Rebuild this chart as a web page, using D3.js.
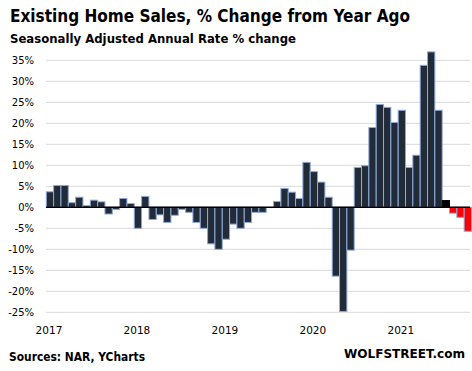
<!DOCTYPE html>
<html><head><meta charset="utf-8">
<script src="https://cdn.jsdelivr.net/npm/d3@7"></script>
<style>body{margin:0;background:#fff}svg{display:block}</style>
</head><body>
<script>
const months = [];
const years = [2017, 2018, 2019, 2020, 2021];
years.forEach(y => { for (let m = 1; m <= 12; m++) if (!(y === 2021 && m > 10)) months.push(y + "-" + String(m).padStart(2, "0")); });
const values2017 = [3.7, 5.2, 5.2, 1.1, 2.4, 0.4, 1.7, 1.3, -1.6, -0.5, 2.1, 0.9];
const values2018 = [-5.0, 2.6, -2.9, -1.8, -3.6, -1.9, -0.5, -1.2, -3.6, -5.0, -8.7, -10.0];
const values2019 = [-7.6, -4.0, -5.0, -3.6, -1.2, -1.2, 0.0, 1.4, 4.5, 3.6, 2.1, 10.7];
const values2020 = [8.5, 6.0, 2.4, -16.4, -24.8, -10.2, 9.5, 9.9, 19.0, 24.5, 23.8, 20.2];
const values2021 = [23.1, 9.5, 12.4, 33.8, 37.0, 23.1, 1.6, -1.4, -2.4, -5.7];
const values = [].concat(values2017, values2018, values2019, values2020, values2021);
const yTicks = [35, 30, 25, 20, 15, 10, 5, 0, -5, -10, -15, -20, -25];
const yearLabels = ["2017", "2018", "2019", "2020", "2021"];

const W = 472, H = 371;
const svg = d3.select("body").append("svg").attr("width", W).attr("height", H);
const x = d3.scaleBand().domain(months).range([46.3, 471.5]).padding(0);
const y = d3.scaleLinear().domain([-25, 35]).range([312.3, 60.3]);
const font = "'DejaVu Sans', Verdana, sans-serif";

// gridlines
svg.append("g").selectAll("line").data(yTicks.filter(d => d !== 0)).join("line")
  .attr("x1", 46).attr("x2", 470).attr("y1", d => y(d)).attr("y2", d => y(d))
  .attr("stroke", "#d9d9d9").attr("stroke-width", 1);

// y labels
svg.append("g").selectAll("text").data(yTicks).join("text")
  .attr("x", 34).attr("y", d => y(d) + 4).attr("text-anchor", "end")
  .attr("font-family", font).attr("font-size", 10).attr("fill", "#000")
  .text(d => d + "%");

// bars
const colorOf = (d, i) => {
  if (months[i] === "2021-07") return "#000";
  if (months[i] >= "2021-08") return "#ff0000";
  return "#222b38";
};
svg.append("g").selectAll("rect").data(values).join("rect")
  .attr("x", (d, i) => x(months[i]))
  .attr("width", x.bandwidth())
  .attr("y", d => y(Math.max(0, d)))
  .attr("height", d => Math.abs(y(d) - y(0)))
  .attr("fill", colorOf)
  .attr("stroke", (d, i) => months[i] === "2021-07" ? "#000" : "#8eaadb")
  .attr("stroke-width", 1);

// zero line
svg.append("line").attr("x1", 46).attr("x2", 470).attr("y1", y(0)).attr("y2", y(0))
  .attr("stroke", "#000").attr("stroke-width", 1.5);

// year labels
svg.append("g").selectAll("text").data(yearLabels).join("text")
  .attr("x", d => x(d + "-01") + x.bandwidth() / 2 - 1)
  .attr("y", 334).attr("text-anchor", "middle")
  .attr("font-family", font).attr("font-size", 10.5).attr("fill", "#000")
  .text(d => d);

// titles
svg.append("text").attr("x", 10).attr("y", 22)
  .attr("font-family", font).attr("font-weight", "bold").attr("font-size", 17.5)
  .attr("textLength", 400).attr("lengthAdjust", "spacingAndGlyphs")
  .text("Existing Home Sales, % Change from Year Ago");
svg.append("text").attr("x", 10).attr("y", 42.5)
  .attr("font-family", font).attr("font-weight", "bold").attr("font-size", 12.5)
  .attr("textLength", 286).attr("lengthAdjust", "spacingAndGlyphs")
  .text("Seasonally Adjusted Annual Rate % change");
svg.append("text").attr("x", 9).attr("y", 360.5)
  .attr("font-family", font).attr("font-weight", "bold").attr("font-size", 12)
  .attr("textLength", 136).attr("lengthAdjust", "spacingAndGlyphs")
  .text("Sources: NAR, YCharts");
svg.append("text").attr("x", 344).attr("y", 358)
  .attr("font-family", font).attr("font-weight", "bold").attr("font-size", 12)
  .attr("textLength", 121).attr("lengthAdjust", "spacingAndGlyphs")
  .text("WOLFSTREET.com");
</script>
</body></html>
